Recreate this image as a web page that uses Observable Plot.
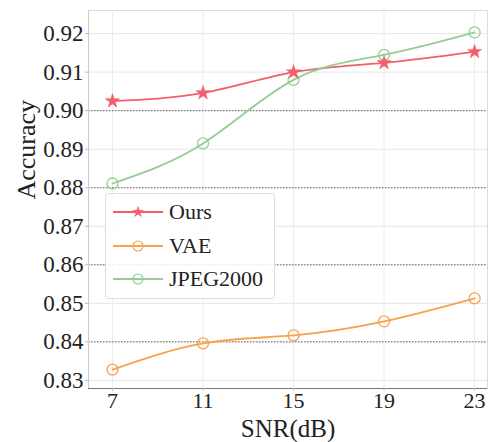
<!DOCTYPE html>
<html><head><meta charset="utf-8">
<script src="https://cdn.jsdelivr.net/npm/d3@7"></script>
<script src="https://cdn.jsdelivr.net/npm/@observablehq/plot@0.6"></script>
<style>
body{margin:0;background:#fff;}
#wrap{position:relative;width:489px;height:442px;font-family:"Liberation Serif","Times New Roman",serif;}
#chart svg text{font-family:"Liberation Serif","Times New Roman",serif;}
#legend{position:absolute;left:105px;top:193px;width:170px;height:106px;border:1px solid #ddd;border-radius:3px;background:rgba(255,255,255,0.85);box-sizing:border-box;}
.li{position:absolute;left:0;height:34px;display:flex;align-items:center;font-size:22px;color:#222;}
.li svg{margin-left:7px;margin-right:6px;}
</style></head>
<body><div id="wrap"><div id="chart"></div><div id="legend"></div></div>
<script>
const snr = [7, 11, 15, 19, 23];
const ours = [0.9025, 0.9046, 0.9100, 0.9124, 0.9153];
const vae = [0.8328, 0.8396, 0.8417, 0.8453, 0.8513];
const jpeg = [0.8811, 0.8915, 0.9080, 0.9145, 0.9203];
const yTicks = [0.83, 0.84, 0.85, 0.86, 0.87, 0.88, 0.89, 0.90, 0.91, 0.92];
const dottedTicks = [0.84, 0.86, 0.88, 0.90];
const seriesNames = ["Ours", "VAE", "JPEG2000"];
const seriesColors = ["#f25f6b", "#f7a34b", "#96cc96"];
const seriesSymbols = ["star", "circle", "circle"];

const seriesValues = [ours, vae, jpeg];
const data = [];
seriesNames.forEach((name, i) => snr.forEach((x, j) => data.push({series: name, snr: x, acc: seriesValues[i][j]})));

const color = {domain: seriesNames, range: seriesColors};
const serif = "Liberation Serif";

const chart = Plot.plot({
  width: 489, height: 442,
  marginLeft: 88, marginTop: 10, marginRight: 2, marginBottom: 54,
  style: {fontFamily: "'Liberation Serif', 'Times New Roman', serif", fontSize: "23px", color: "#222", background: "#fff"},
  x: {domain: [5.94, 23.57], label: null},
  y: {domain: [0.8279, 0.926], label: null},
  color,
  marks: [
    Plot.gridY(yTicks, {stroke: "#e6e6e6", strokeOpacity: 1, strokeWidth: 1}),
    Plot.gridX(snr, {stroke: "#ececec", strokeOpacity: 1, strokeWidth: 1}),
    Plot.ruleY(dottedTicks, {stroke: "#666", strokeWidth: 1, strokeDasharray: "1.5,1.5"}),
    Plot.frame({stroke: "#ddd"}),
    Plot.ruleX([5.94], {stroke: "#ccc"}),
    Plot.ruleY([0.8279], {stroke: "#777", strokeWidth: 1.2}),
    Plot.axisX({ticks: snr, tickFormat: d => String(d), tickSize: 3, tickPadding: 1, stroke: "#bbb", label: null, fontFamily: serif, fontSize: 22}),
    Plot.axisY({ticks: yTicks, tickFormat: d3.format(".2f"), tickSize: 3, tickPadding: 2, stroke: "#bbb", label: null, fontFamily: serif, fontSize: 23}),
    Plot.line(data, {x: "snr", y: "acc", z: "series", stroke: "series", curve: "natural", strokeWidth: 1.8}),
    Plot.dot(data.filter(d => d.series !== "Ours"), {x: "snr", y: "acc", stroke: "series", fill: "white", fillOpacity: 0, symbol: "circle", r: 5.5, strokeWidth: 1.3}),
    Plot.dot(data.filter(d => d.series === "Ours"), {x: "snr", y: "acc", fill: "series", stroke: "series", symbol: "star", r: 4.5, strokeWidth: 0.5}),
    Plot.text(["SNR(dB)"], {frameAnchor: "bottom", dy: 48, fontSize: 25, fill: "#222", fontFamily: serif}),
    Plot.text(["Accuracy"], {frameAnchor: "left", dx: -62, rotate: -90, fontSize: 26, fill: "#222", fontFamily: serif})
  ]
});
document.getElementById("chart").appendChild(chart);

const legend = document.getElementById("legend");
seriesNames.forEach((name, i) => {
  const div = document.createElement("div");
  div.className = "li";
  div.style.top = (1 + i * 33.5) + "px";
  const c = seriesColors[i];
  const mk = seriesSymbols[i] === "star"
    ? `<path d="${d3.symbol(d3.symbolStar, 35)()}" transform="translate(25,8)" fill="${c}" stroke="${c}" stroke-width="0.5"/>`
    : `<circle cx="25" cy="8" r="5" fill="none" stroke="${c}" stroke-width="1.2"/>`;
  div.innerHTML = `<svg width="50" height="16"><line x1="0" x2="50" y1="8" y2="8" stroke="${c}" stroke-width="1.8"/>${mk}</svg><span>${name}</span>`;
  legend.appendChild(div);
});
</script></body></html>
